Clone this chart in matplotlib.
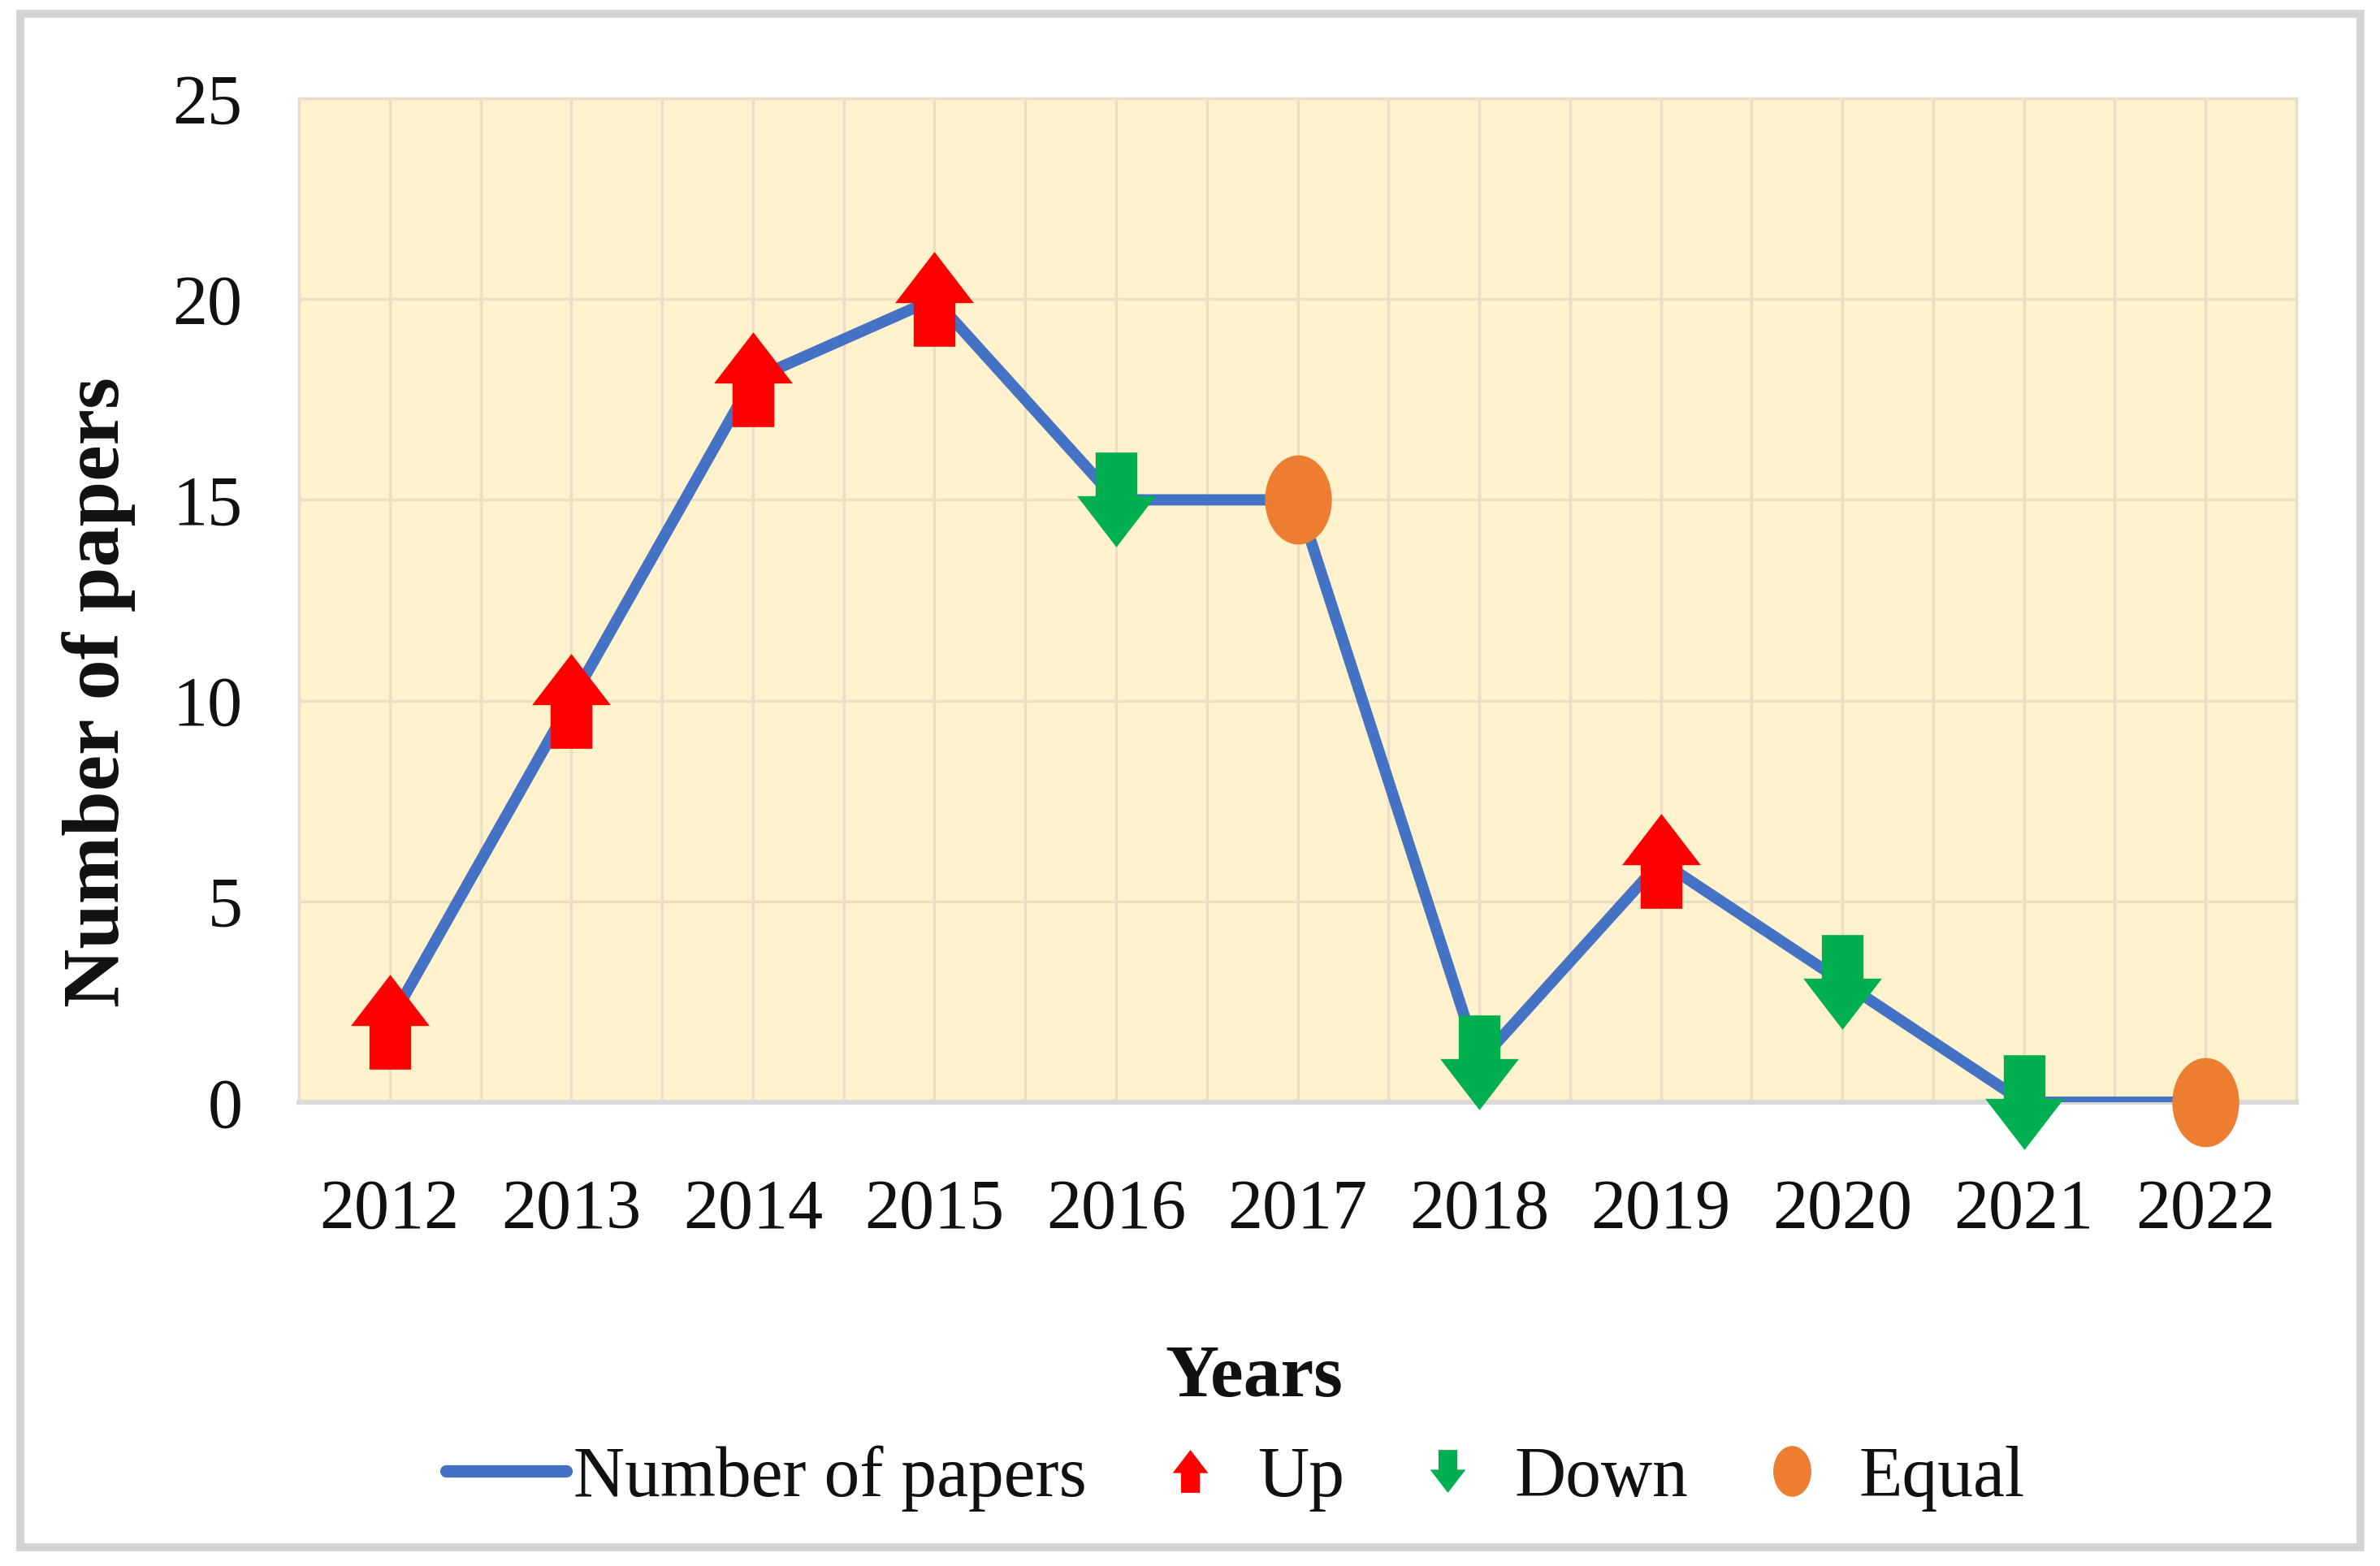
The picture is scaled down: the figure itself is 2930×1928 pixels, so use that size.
import matplotlib
matplotlib.use("Agg")
import matplotlib.pyplot as plt
from matplotlib.path import Path
from matplotlib.transforms import Affine2D
from matplotlib.lines import Line2D
from matplotlib.patches import Rectangle

# ---- data ----
years = ["2012", "2013", "2014", "2015", "2016", "2017", "2018", "2019", "2020", "2021", "2022"]
papers = [2, 10, 18, 20, 15, 15, 1, 6, 3, 0, 0]
trend = ["Up", "Up", "Up", "Up", "Down", "Equal", "Down", "Up", "Down", "Down", "Equal"]
y_ticks = [0, 5, 10, 15, 20, 25]

# ---- style ----
plt.rcParams["font.family"] = ["Liberation Serif", "DejaVu Serif"]
LINE_C = "#4472C4"
UP_C = "#FF0000"
DOWN_C = "#00B050"
EQ_C = "#ED7D31"
BG = "#FFF2CC"
GRID_C = "#E8DFC6"

up_verts = [(0, 0.5), (0.415, -0.04), (0.22, -0.04), (0.22, -0.5),
            (-0.22, -0.5), (-0.22, -0.04), (-0.415, -0.04), (0, 0.5)]
up_path = Path(up_verts, [Path.MOVETO] + [Path.LINETO] * 6 + [Path.CLOSEPOLY])
down_path = Path([(x, -y) for x, y in up_verts], up_path.codes)
ell_path = Affine2D().scale(0.75, 1.0).transform_path(Path.unit_circle())

markers = {"Up": (up_path, UP_C), "Down": (down_path, DOWN_C), "Equal": (ell_path, EQ_C)}

W, H, DPI = 2930, 1928, 100
fig = plt.figure(figsize=(W / DPI, H / DPI), dpi=DPI)
ax = fig.add_axes([368 / W, 1 - 1357 / H, (2827 - 368) / W, (1357 - 121) / H])
ax.set_facecolor(BG)

x = list(range(len(years)))
ax.plot(x, papers, color=LINE_C, lw=10, solid_capstyle="butt", solid_joinstyle="round", zorder=3)
for key, (pth, col) in markers.items():
    xs = [i for i, t in zip(x, trend) if t == key]
    ys = [papers[i] for i in xs]
    ax.plot(xs, ys, ls="none", marker=pth, markersize=84 if key != "Equal" else 79,
            color=col, markeredgewidth=0, zorder=4, clip_on=False)

ax.set_xlim(-0.5, len(years) - 0.5)
ax.set_ylim(0, 25)
ax.set_xticks(x)
ax.set_xticklabels(years)
ax.set_yticks(y_ticks)
ax.set_yticklabels([str(v) for v in y_ticks])

# grid: every half category vertically, every 5 horizontally
for gx in [i * 0.5 - 0.5 for i in range(1, 2 * len(years))]:
    ax.axvline(gx, color=GRID_C, lw=2.5, zorder=1)
for gy in y_ticks[1:-1]:
    ax.axhline(gy, color=GRID_C, lw=2.5, zorder=1)

ax.tick_params(axis="both", length=0, labelsize=62, colors="#111111")
ax.tick_params(axis="x", pad=68)
ax.tick_params(axis="y", pad=50)
for s in ["top", "left", "right"]:
    ax.spines[s].set_color("#E6DFCC")
    ax.spines[s].set_linewidth(2.5)
ax.spines["bottom"].set_color("#D9D9D9")
ax.spines["bottom"].set_linewidth(4.5)

fig.text(122 / W, 0.558, "Number of papers", rotation=90, ha="center", va="center",
         fontsize=72, fontweight="bold", color="#111111")
fig.text(0.5268, 0.120, "Years", ha="center", va="center",
         fontsize=66, fontweight="bold", color="#111111")

handles = [
    Line2D([], [], color=LINE_C, lw=11, solid_capstyle="round"),
    Line2D([], [], ls="none", marker=up_path, markersize=38, color=UP_C, markeredgewidth=0),
    Line2D([], [], ls="none", marker=down_path, markersize=38, color=DOWN_C, markeredgewidth=0),
    Line2D([], [], ls="none", marker=ell_path, markersize=45, color=EQ_C, markeredgewidth=0),
]
labels = ["Number of papers", "Up", "Down", "Equal"]
fig.legend(handles, labels, loc="center", bbox_to_anchor=(0.519, 0.056), ncol=4,
           frameon=False, fontsize=63, handlelength=1.7, handletextpad=0.1,
           columnspacing=0.6, borderpad=0.1, labelcolor="#111111")

fig.add_artist(Rectangle((25 / W, 1 - 1905 / H), (2906 - 25) / W, (1905 - 17) / H,
                         transform=fig.transFigure, fill=False, ec="#D3D3D3", lw=7))

fig.savefig("out.png", dpi=DPI, facecolor="white")
